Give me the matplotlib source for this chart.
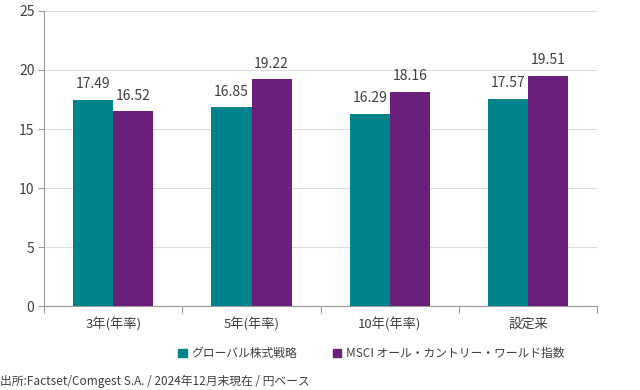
import numpy as np
import matplotlib
matplotlib.use("Agg")
import matplotlib.pyplot as plt

plt.rcParams['font.family'] = ['Noto Sans CJK JP', 'DejaVu Sans']

categories = ["3年(年率)", "5年(年率)", "10年(年率)", "設定来"]
fund = [17.49, 16.85, 16.29, 17.57]
index = [16.52, 19.22, 18.16, 19.51]
series_names = ["グローバル株式戦略", "MSCI オール・カントリー・ワールド指数"]
source = "出所:Factset/Comgest S.A. / 2024年12月末現在 / 円ベース"

teal = "#00838a"
purple = "#6a1f7a"
txt = "#404040"

fig = plt.figure(figsize=(6.4, 3.9), dpi=100)
ax = fig.add_axes([0.069, 0.215, 0.864, 0.757])

x = np.arange(len(categories))
w = 0.29
b1 = ax.bar(x - w / 2, fund, w, color=teal, label=series_names[0], zorder=3)
b2 = ax.bar(x + w / 2, index, w, color=purple, label=series_names[1], zorder=3)

for bars in (b1, b2):
    for r in bars:
        ax.annotate(f"{r.get_height():.2f}", (r.get_x() + r.get_width() / 2, r.get_height()),
                    xytext=(0, 6), textcoords="offset points", ha="center", va="bottom",
                    fontsize=10, color=txt)

ax.set_xlim(-0.5, len(categories) - 0.5)
ax.set_ylim(0, 25)
ax.set_yticks(range(0, 26, 5))
ax.yaxis.grid(True, color="#dddddd", linewidth=0.8, zorder=0)
ax.set_axisbelow(True)

ax.set_xticks(np.arange(-0.5, len(categories), 1.0))
ax.set_xticklabels([])
ax.set_xticks(x, minor=True)
ax.set_xticklabels(categories, minor=True)
ax.tick_params(axis="x", which="major", length=5, color="#999999")
ax.tick_params(axis="x", which="minor", length=0, pad=8, labelsize=9.5, labelcolor=txt)
ax.tick_params(axis="y", length=4, color="#999999", labelsize=10, labelcolor=txt, pad=3)

for s in ["top", "right"]:
    ax.spines[s].set_visible(False)
ax.spines["left"].set_color("#999999")
ax.spines["bottom"].set_color("#999999")

handles = [plt.Rectangle((0, 0), 1, 1, color=teal), plt.Rectangle((0, 0), 1, 1, color=purple)]
fig.legend(handles, series_names, loc="center", bbox_to_anchor=(0.58, 0.094), ncol=2,
           frameon=False, fontsize=8.5, handlelength=0.7, handleheight=0.7,
           handletextpad=0.4, columnspacing=3.0, labelcolor=txt)

fig.text(0.0, 0.022, source, fontsize=8.5, color=txt, ha="left", va="center")

fig.savefig("out.png", dpi=100)
